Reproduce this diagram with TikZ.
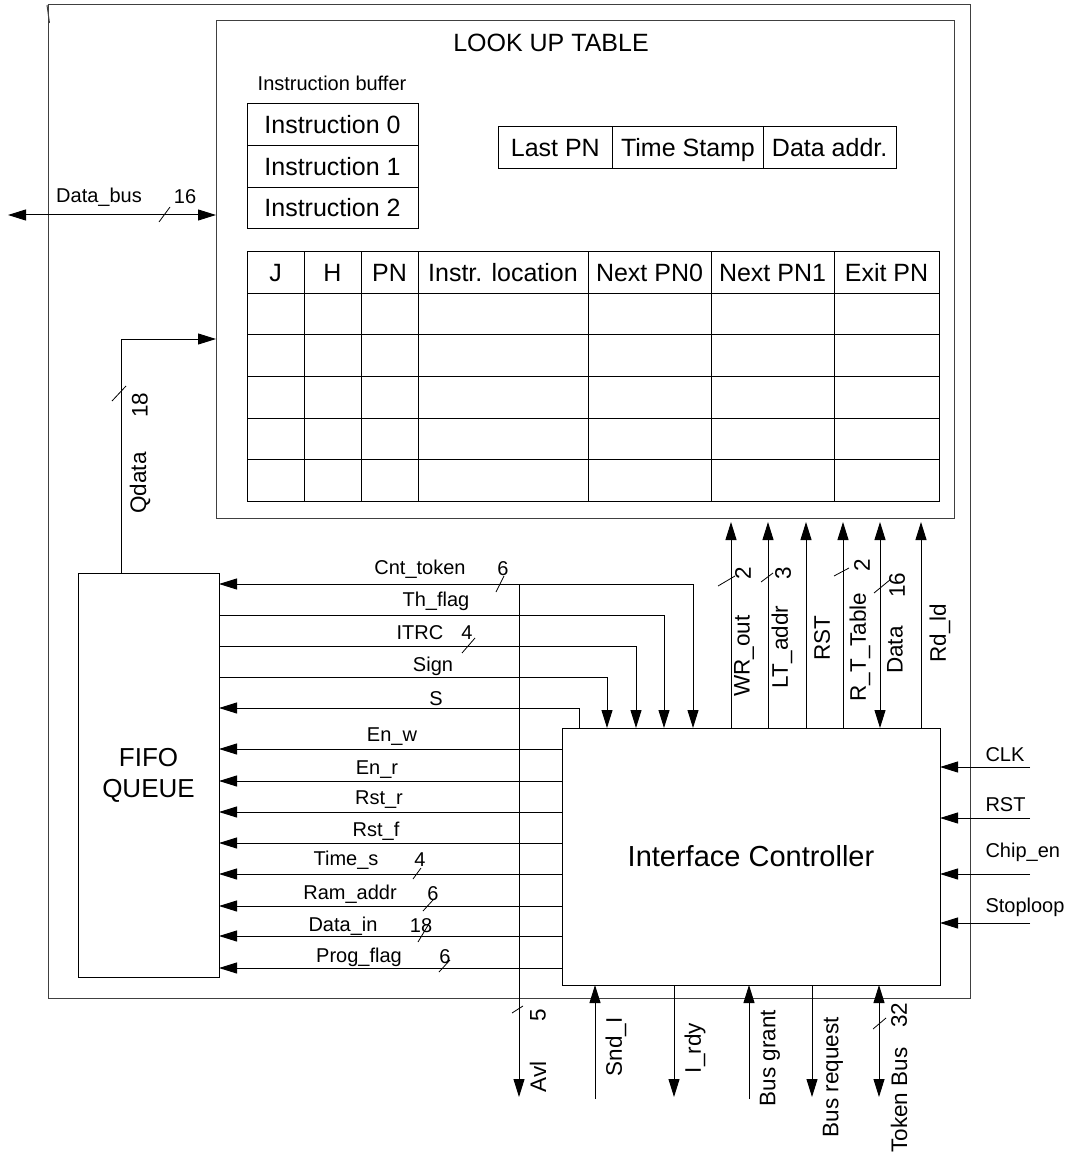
\documentclass[tikz,border=0pt]{standalone}
\usepackage{fontspec}
\setmainfont{Liberation Sans}
\usetikzlibrary{positioning, arrows.meta, calc}

\begin{document}
\begin{tikzpicture}[
    x=1pt, y=-1pt, line width=1pt,
    frame/.style={draw=black!75, inner sep=0pt, outer sep=0pt},
    block/.style={draw, inner sep=0pt, outer sep=0pt, align=center, font=\fontsize{26}{31}\selectfont},
    cell/.style={draw, inner sep=0pt, outer sep=0pt, minimum height=41.6pt,
                 text height=18pt, text depth=0pt, font=\fontsize{25}{30}\selectfont},
    sig/.style={inner sep=0pt, font=\fontsize{20}{24}\selectfont},
    vsig/.style={inner sep=0pt, rotate=90, font=\fontsize{22.5}{27}\selectfont},
    arr/.style={-{Triangle[length=18pt, width=11pt]}},
    darr/.style={{Triangle[length=18pt, width=11pt]}-{Triangle[length=18pt, width=11pt]}},
    tick/.style={line width=0.8pt},
]
\useasboundingbox (0,0) rectangle (1073,1155);

% outer frame and look up table
\node[frame, minimum width=922pt, minimum height=993pt, anchor=north west] (chip) at (48,5) {};
\draw[black!75] (47,5) -- (49.5,23);
\node[frame, minimum width=738pt, minimum height=497pt, anchor=north west] (lut) at (216,21) {};
\node[font=\fontsize{25}{30}\selectfont] (luttitle) at (551,43) {LOOK UP TABLE};

% instruction buffer
\node[sig] (ibuf) at (332,83) {Instruction buffer};
\node[cell, minimum width=171pt, anchor=north west] (ins0) at (247,104) {Instruction 0};
\node[cell, minimum width=171pt, below=0pt of ins0] (ins1) {Instruction 1};
\node[cell, minimum width=171pt, below=0pt of ins1] (ins2) {Instruction 2};

% last PN register
\node[cell, minimum width=114.7pt, anchor=north west] (lastpn) at (498,126.7) {Last PN};
\node[cell, minimum width=150.6pt, right=0pt of lastpn] (tstamp) {Time Stamp};
\node[cell, minimum width=132.7pt, right=0pt of tstamp] (daddr) {Data addr.};

% main table
\node[cell, minimum width=57pt, anchor=north west] (hj) at (247,251.7) {J};
\node[cell, minimum width=57pt, right=0pt of hj] (hh) {H};
\node[cell, minimum width=57pt, right=0pt of hh] (hpn) {PN};
\node[cell, minimum width=170pt, right=0pt of hpn] (hloc) {Instr. location};
\node[cell, minimum width=123pt, right=0pt of hloc] (hnext0) {Next PN0};
\node[cell, minimum width=123pt, right=0pt of hnext0] (hnext1) {Next PN1};
\node[cell, minimum width=105pt, right=0pt of hnext1] (hexit) {Exit PN};
\draw (hj.south west) rectangle ++(692,208);
\foreach \c in {hj,hh,hpn,hloc,hnext0,hnext1}
    \draw (\c.south east) -- ++(0,208);
\foreach \r in {1,...,4}
    \draw ($(hj.south west)+(0,41.6*\r)$) -- ++(692,0);

% fifo and controller
\node[block, minimum width=141pt, minimum height=404pt, anchor=north west] (fifo) at (78,573) {FIFO\\QUEUE};
\node[block, minimum width=378pt, minimum height=257pt, anchor=north west, font=\fontsize{29}{34}\selectfont] (ctrl) at (562,728) {Interface Controller};

% data bus and queue output
\coordinate (dbus) at (8,215);
\draw[darr] (dbus) -- (dbus -| lut.west);
\node[sig] at (99,197) {Data\_bus};
\draw[tick] (159,222) -- (170,207);
\node[sig] at (185,197) {16};

\coordinate (qbend) at (121.5,339);
\draw[arr] (qbend |- fifo.north) -- (qbend) -- (qbend -| lut.west);
\node[vsig] at (140,483) {Qdata};
\draw[tick] (112,401) -- (126,386);
\node[vsig] at (140,405) {18};

% signals from the top of the controller
\coordinate (cnt) at (693,584);
\coordinate (thf) at (664,615);
\coordinate (itrc) at (636,646);
\coordinate (sign) at (607,677);
\coordinate (sflag) at (579,708);
\draw[darr] (fifo.east |- cnt) -| (cnt |- ctrl.north);
\draw[arr] (fifo.east |- thf) -| (thf |- ctrl.north);
\draw[arr] (fifo.east |- itrc) -| (itrc |- ctrl.north);
\draw[arr] (fifo.east |- sign) -| (sign |- ctrl.north);
\draw[arr] (sflag |- ctrl.north) |- (fifo.east |- sflag);
\node[sig] at (420,569) {Cnt\_token};
\draw[tick] (496,592) -- (504,576);
\node[sig] at (503,569) {6};
\node[sig] at (436,601) {Th\_flag};
\node[sig] at (420,633) {ITRC};
\draw[tick] (462,653) -- (475,638);
\node[sig] at (467,633) {4};
\node[sig] at (433,666) {Sign};
\node[sig] at (436,699) {S};

% signals from the left of the controller
\coordinate (enw) at (562,749);
\coordinate (enr) at (562,781);
\coordinate (rstr) at (562,812);
\coordinate (rstf) at (562,843);
\coordinate (times) at (562,874);
\coordinate (ramaddr) at (562,906);
\coordinate (datain) at (562,936);
\coordinate (progflag) at (562,968);
\draw[arr] (enw) -- (enw -| fifo.east);
\draw[arr] (enr) -- (enr -| fifo.east);
\draw[arr] (rstr) -- (rstr -| fifo.east);
\draw[arr] (rstf) -- (rstf -| fifo.east);
\draw[arr] (times) -- (times -| fifo.east);
\draw[arr] (ramaddr) -- (ramaddr -| fifo.east);
\draw[arr] (datain) -- (datain -| fifo.east);
\draw[arr] (progflag) -- (progflag -| fifo.east);
\node[sig] at (392,737) {En\_w};
\node[sig] at (377,770) {En\_r};
\node[sig] at (379,800) {Rst\_r};
\node[sig] at (376,831) {Rst\_f};
\node[sig] at (346,860) {Time\_s};
\draw[tick] (413,879) -- (421,868);
\node[sig] at (420,860) {4};
\node[sig] at (350,894) {Ram\_addr};
\draw[tick] (423,911) -- (433,900);
\node[sig] at (433,894) {6};
\node[sig] at (343,926) {Data\_in};
\draw[tick] (418,942) -- (430,922);
\node[sig] at (421,926) {18};
\node[sig] at (359,957) {Prog\_flag};
\draw[tick] (439,972) -- (450,960);
\node[sig] at (445,957) {6};

% avl output
\coordinate (avltop) at (519,584);
\coordinate (avl) at (519,1097);
\draw[arr] (avltop) -- (avl);
\node[vsig] at (538,1077) {Avl};
\draw[tick] (512,1013) -- (523,1006);
\node[vsig] at (538,1015) {5};

% controller to look up table
\coordinate (wrout) at (731,600);
\coordinate (ltaddr) at (768,600);
\coordinate (rstlt) at (806,600);
\coordinate (rttable) at (843,600);
\coordinate (ltdata) at (880,600);
\coordinate (rdld) at (921,600);
\draw[arr, shorten >=4pt] (wrout |- ctrl.north) -- (wrout |- lut.south);
\draw[arr, shorten >=4pt] (ltaddr |- ctrl.north) -- (ltaddr |- lut.south);
\draw[arr, shorten >=4pt] (rstlt |- ctrl.north) -- (rstlt |- lut.south);
\draw[arr, shorten >=4pt] (rttable |- ctrl.north) -- (rttable |- lut.south);
\draw[darr, shorten >=4pt] (ltdata |- ctrl.north) -- (ltdata |- lut.south);
\draw[arr, shorten >=4pt] (rdld |- ctrl.north) -- (rdld |- lut.south);
\node[vsig] at (744,656) {WR\_out};
\draw[tick] (718,586) -- (735,576);
\node[vsig] at (743,573) {2};
\node[vsig] at (782,647) {LT\_addr};
\draw[tick] (761,582) -- (773,573);
\node[vsig] at (783,573) {3};
\node[vsig] at (822,638) {RST};
\node[vsig] at (860,647) {R\_T\_Table};
\draw[tick] (834,576) -- (849,568);
\node[vsig] at (862,565) {2};
\node[vsig] at (895,650) {Data};
\draw[tick] (874,593) -- (891,579);
\node[vsig] at (897,585) {16};
\node[vsig] at (940,633) {Rd\_ld};

% inputs on the right
\coordinate (clk) at (1030,767);
\coordinate (rstin) at (1030,818);
\coordinate (chipen) at (1030,874);
\coordinate (stoploop) at (1030,923);
\draw[arr] (clk) -- (clk -| ctrl.east);
\draw[arr] (rstin) -- (rstin -| ctrl.east);
\draw[arr] (chipen) -- (chipen -| ctrl.east);
\draw[arr] (stoploop) -- (stoploop -| ctrl.east);
\node[sig, anchor=west] at (985,755) {CLK};
\node[sig, anchor=west] at (985,805) {RST};
\node[sig, anchor=west] at (985,852) {Chip\_en};
\node[sig, anchor=west] at (985,907) {Stoploop};

% bus signals at the bottom
\coordinate (sndi) at (595,1099);
\coordinate (irdy) at (674,1097);
\coordinate (busgrant) at (749,1099);
\coordinate (busreq) at (812,1097);
\coordinate (tokenbus) at (879,1097);
\draw[arr] (sndi) -- (sndi |- ctrl.south);
\draw[arr] (irdy |- ctrl.south) -- (irdy);
\draw[arr] (busgrant) -- (busgrant |- ctrl.south);
\draw[arr] (busreq |- ctrl.south) -- (busreq);
\draw[darr] (tokenbus |- ctrl.south) -- (tokenbus);
\node[vsig] at (616,1047) {Snd\_I};
\node[vsig] at (695,1048) {I\_rdy};
\node[vsig] at (770,1058) {Bus grant};
\node[vsig] at (833,1077) {Bus request};
\node[vsig] at (899,1100) {Token Bus};
\draw[tick] (873,1029) -- (886,1018);
\node[vsig] at (899,1015) {32};

\end{tikzpicture}
\end{document}
